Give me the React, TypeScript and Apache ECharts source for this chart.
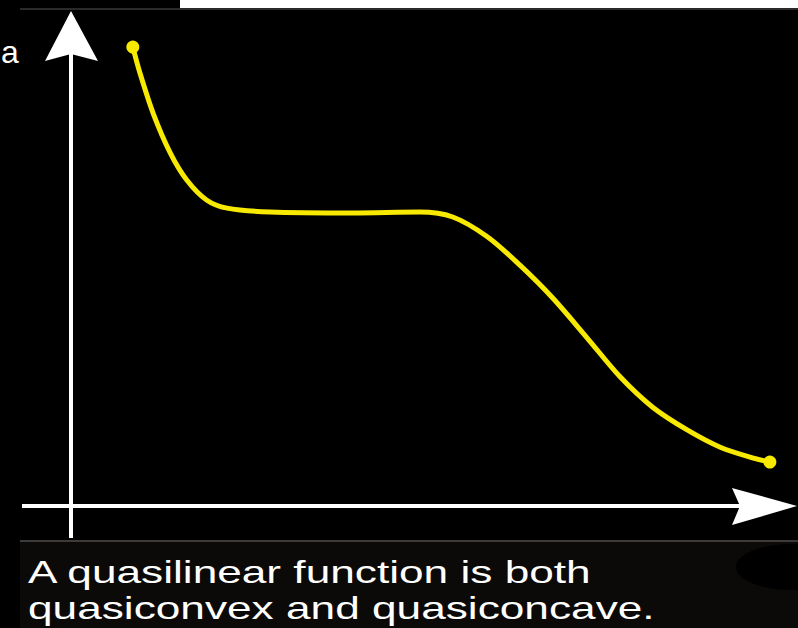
import React, { useEffect, useRef } from "react";
import * as echarts from "echarts";

// Curve (arbitrary units, x 0..100, y 0..100)
const curveX = [8.6, 9.6, 11.4, 13.8, 16.1, 18.9, 21.7, 27.7, 39.2, 48.5, 53.1, 57.9, 62.4, 67.0, 71.8, 76.4, 80.9, 85.7, 90.3, 94.9, 97.2];
const curveY = [92.7, 87.4, 79.4, 71.3, 65.8, 61.7, 60.1, 59.3, 59.1, 59.3, 58.3, 54.3, 48.6, 41.9, 33.8, 25.9, 19.8, 15.2, 11.7, 9.5, 8.7];

const captionLines = ["A quasilinear function is both", "quasiconvex and quasiconcave."];
const sideGlyph = "a";

const FONT = "'Liberation Sans', Arial, sans-serif";

export default function App() {
  const ref = useRef<HTMLDivElement>(null);

  useEffect(() => {
    if (!ref.current) return;
    const chart = echarts.init(ref.current, undefined, { renderer: "svg" });
    const pts = curveX.map((x, i) => [x, curveY[i]]);
    const ends = [pts[0], pts[pts.length - 1]];
    const yellow = "#f7ea00";
    const white = "#ffffff";

    chart.setOption({
      animation: false,
      backgroundColor: "#000000",
      grid: { left: 71, right: 8, top: 11, bottom: 123 },
      xAxis: { type: "value", min: 0, max: 100, show: false },
      yAxis: { type: "value", min: 0, max: 100, show: false },
      series: [
        {
          type: "line",
          data: pts,
          smooth: 0.3,
          showSymbol: false,
          lineStyle: { color: yellow, width: 5 },
          z: 5,
        },
        {
          type: "scatter",
          data: ends,
          symbol: "circle",
          symbolSize: 13,
          itemStyle: { color: yellow, opacity: 1 },
          z: 6,
        },
      ],
      graphic: [
        // top white strip and separator
        { type: "rect", shape: { x: 180, y: 0, width: 618, height: 8 }, style: { fill: "#ffffff" }, z: 10 },
        { type: "line", shape: { x1: 20, y1: 9, x2: 798, y2: 9 }, style: { stroke: "#2c2a28", lineWidth: 2 }, z: 10 },
        // bottom caption panel
        { type: "rect", shape: { x: 20, y: 542, width: 778, height: 86 }, style: { fill: "#0b0a08" }, z: 10 },
        { type: "line", shape: { x1: 20, y1: 541, x2: 798, y2: 541 }, style: { stroke: "#3d3b39", lineWidth: 2 }, z: 11 },
        { type: "ellipse", shape: { cx: 792, cy: 567, rx: 56, ry: 23 }, style: { fill: "#000000" }, z: 11 },
        // axes
        { type: "line", shape: { x1: 71, y1: 54, x2: 71, y2: 538 }, style: { stroke: white, lineWidth: 4 }, z: 8 },
        { type: "polygon", shape: { points: [[71, 11], [98, 61], [71, 54], [45, 61]] }, style: { fill: white }, z: 8 },
        { type: "line", shape: { x1: 22, y1: 506, x2: 742, y2: 506 }, style: { stroke: white, lineWidth: 4 }, z: 8 },
        { type: "polygon", shape: { points: [[797, 506], [732, 488], [740, 506], [732, 525]] }, style: { fill: white }, z: 8 },
        // texts
        {
          type: "text",
          x: 28,
          y: 572,
          scaleX: 1.382,
          style: { text: captionLines[0], fill: white, font: `32px ${FONT}`, verticalAlign: "middle", align: "left" },
          z: 12,
        },
        {
          type: "text",
          x: 28,
          y: 608,
          scaleX: 1.382,
          style: { text: captionLines[1], fill: white, font: `32px ${FONT}`, verticalAlign: "middle", align: "left" },
          z: 12,
        },
        {
          type: "text",
          x: 1,
          y: 52,
          style: { text: sideGlyph, fill: white, font: `32px ${FONT}`, verticalAlign: "middle", align: "left" },
          z: 12,
        },
      ],
    });
    return () => chart.dispose();
  }, []);

  return (
    <div
      ref={ref}
      style={{ position: "fixed", left: 0, top: 0, width: 798, height: 628 }}
    />
  );
}
